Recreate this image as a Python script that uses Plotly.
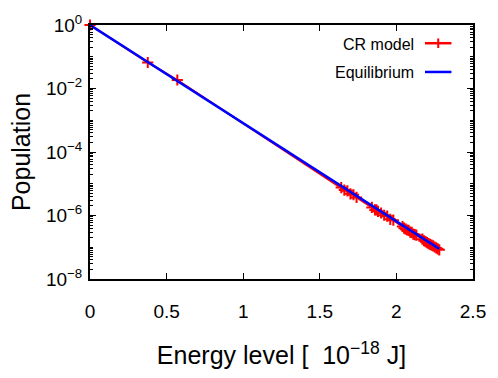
import plotly.graph_objects as go

# ---- data ----
cr_energy = [0.0, 0.377, 0.570,
             1.64, 1.66, 1.68, 1.70, 1.72, 1.74,
             1.84, 1.86, 1.87, 1.88, 1.90, 1.92, 1.94, 1.96, 1.98,
             2.04, 2.05, 2.06, 2.07, 2.08, 2.09, 2.10, 2.11, 2.12, 2.13,
             2.17, 2.18, 2.19, 2.20, 2.21, 2.22, 2.23, 2.24, 2.25, 2.26, 2.27, 2.28]
cr_pop = [1.0, 0.066, 0.0185,
          7.6e-6, 6.3e-6, 6.0e-6, 4.8e-6, 4.5e-6, 3.7e-6,
          1.8e-6, 1.5e-6, 1.5e-6, 1.35e-6, 1.2e-6, 1.02e-6, 9.5e-7, 7.6e-7, 7.1e-7,
          4.5e-7, 4.0e-7, 3.7e-7, 3.5e-7, 3.4e-7, 3.0e-7, 2.95e-7, 2.6e-7, 2.5e-7, 2.4e-7,
          1.8e-7, 1.6e-7, 1.5e-7, 1.4e-7, 1.3e-7, 1.23e-7, 1.17e-7, 1.1e-7, 1.02e-7, 9.5e-8, 8.9e-8, 8.3e-8]
eq_energy = [0.0, 0.377, 0.570, 1.64, 2.28]
eq_pop = [1.0, 0.068, 0.017, 8.5e-6, 8.9e-8]

x_ticks = [0, 0.5, 1, 1.5, 2, 2.5]
x_ticktext = ["0", "0.5", "1", "1.5", "2", "2.5"]
y_tickvals = [1e0, 1e-2, 1e-4, 1e-6, 1e-8]
y_ticktext = ["10<sup>0</sup>", "10<sup>−2</sup>", "10<sup>−4</sup>",
              "10<sup>−6</sup>", "10<sup>−8</sup>"]
y_minor = [m * 10.0 ** e for e in range(-8, 0) for m in range(1, 10)][1:]

FONT = "Liberation Sans"

fig = go.Figure()
fig.add_trace(go.Scatter(
    x=cr_energy, y=cr_pop, mode="lines+markers", name="CR model",
    line=dict(color="red", width=2), cliponaxis=False,
    marker=dict(symbol="cross-thin", size=8, line=dict(color="red", width=2)),
    showlegend=False))
fig.add_trace(go.Scatter(
    x=eq_energy, y=eq_pop, mode="lines", name="Equilibrium",
    line=dict(color="blue", width=2.5), showlegend=False))

# custom legend (text left of sample)
def px2paper(px, py):
    return (px - 90) / 391, (279 - py) / 265

annotations = []
shapes = []
for label, py, color, cross in [("CR model", 34, "red", True), ("Equilibrium", 64, "blue", False)]:
    tx, ty = px2paper(423, py)
    annotations.append(dict(x=tx, y=ty, xref="paper", yref="paper", text=label,
                            showarrow=False, xanchor="right", yanchor="middle",
                            font=dict(family=FONT, size=16, color="black")))
    x0, y0 = px2paper(432, py - 1)
    x1, _ = px2paper(459, py)
    shapes.append(dict(type="line", xref="paper", yref="paper", x0=x0, x1=x1, y0=y0, y1=y0,
                       line=dict(color=color, width=2.5)))
    if cross:
        cx, cy0 = px2paper(445.5, py - 6)
        _, cy1 = px2paper(445.5, py + 4)
        shapes.append(dict(type="line", xref="paper", yref="paper", x0=cx, x1=cx, y0=cy0, y1=cy1,
                           line=dict(color=color, width=2)))

fig.update_layout(
    width=498, height=378,
    margin=dict(l=90, r=17, t=14, b=99),
    paper_bgcolor="white", plot_bgcolor="white",
    font=dict(family=FONT, size=19, color="black"),
    annotations=annotations, shapes=shapes,
    xaxis=dict(range=[0, 2.5], tickvals=x_ticks, ticktext=x_ticktext,
               ticks="inside", ticklen=6, tickwidth=1, tickcolor="black",
               showline=True, linecolor="black", linewidth=2, mirror="ticks",
               showgrid=False, zeroline=False, ticklabelstandoff=14,
               title=dict(text="Energy level [  10<sup>−18</sup> J]",
                          font=dict(size=25), standoff=26)),
    yaxis=dict(type="log", range=[-8, 0], tickvals=y_tickvals, ticktext=y_ticktext,
               ticks="inside", ticklen=6, tickwidth=1, tickcolor="black",
               showline=True, linecolor="black", linewidth=2, mirror="ticks",
               showgrid=False, zeroline=False, ticklabelstandoff=2,
               minor=dict(tickvals=y_minor, ticks="inside", ticklen=3,
                          tickcolor="black", showgrid=False),
               title=dict(text="Population", font=dict(size=25), standoff=8)),
)

fig.write_html("out.html")
